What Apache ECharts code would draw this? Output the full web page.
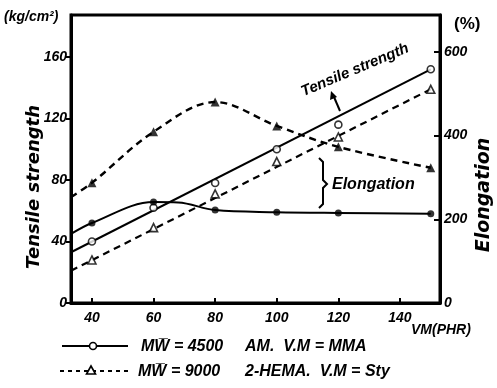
<!DOCTYPE html>
<html>
<head>
<meta charset="utf-8">
<script src="https://cdn.jsdelivr.net/npm/echarts@6/dist/echarts.min.js"></script>
<style>html,body{margin:0;padding:0;background:#fff}#c{width:497px;height:388px}</style>
</head>
<body>
<div id="c"></div>
<script>
// ---- data ----
const xVals = [40, 60, 80, 100, 120, 150];
const tensile4500 = [40, 62, 78, 100, 116, 152];
const tensile9000 = [28, 49, 71, 92, 108, 139];
const elong4500 = [191, 241, 222, 217, 215, 213];
const elong9000 = [287, 409, 480, 423, 373, 323];
// drawn straight lines through tensile points (ends)
const fit4500X = [33.2, 150];
const fit4500Y = [33, 152];
const fit9000X = [33.2, 150];
const fit9000Y = [21, 139];
// drawn elongation curves
const curve4500X = [33.2, 40, 60, 68, 80, 100, 120, 150];
const curve4500Y = [165, 191, 241, 240, 222, 217, 215, 213];
const curve9000X = [33.2, 40, 60, 80, 100, 120, 150];
const curve9000Y = [253, 287, 409, 480, 423, 373, 323];
// tick labels
const xTicks = [40, 60, 80, 100, 120, 140];
const leftTicks = [0, 40, 80, 120, 160];
const rightTicks = [0, 200, 400, 600];

const pair = (xs, ys) => xs.map((x, i) => [x, ys[i]]);
const FONT = 'italic bold 16px "Liberation Sans"';
const tickFont = { fontFamily: 'Liberation Sans', fontStyle: 'italic', fontWeight: 'bold', fontSize: 14, color: '#000' };
const blk = '#000';
const dash = [7, 5];

const chart = echarts.init(document.getElementById('c'), null, { renderer: 'canvas' });
chart.setOption({
  backgroundColor: '#fff',
  animation: false,
  grid: { left: 71, top: 15, right: 57, bottom: 85, show: true, borderColor: blk, borderWidth: 3, backgroundColor: 'transparent' },
  xAxis: {
    type: 'value', min: 33.2, max: 153,
    axisLine: { lineStyle: { color: blk, width: 3 } },
    axisTick: { inside: true, length: 5, lineStyle: { color: blk, width: 2 }, customValues: xTicks },
    axisLabel: Object.assign({ margin: 8, customValues: xTicks }, tickFont),
    splitLine: { show: false }
  },
  yAxis: [{
    type: 'value', min: 0, max: 187.3, position: 'left',
    axisLine: { show: true, lineStyle: { color: blk, width: 3 } },
    axisTick: { show: true, inside: false, length: 5, lineStyle: { color: blk, width: 2 }, customValues: leftTicks },
    axisLabel: Object.assign({ margin: 4, customValues: leftTicks }, tickFont),
    splitLine: { show: false }
  }, {
    type: 'value', min: 0, max: 688, position: 'right',
    axisLine: { show: true, lineStyle: { color: blk, width: 3 } },
    axisTick: { show: true, inside: true, length: 6, lineStyle: { color: blk, width: 2 }, customValues: rightTicks },
    axisLabel: Object.assign({ margin: 4, customValues: rightTicks }, tickFont),
    splitLine: { show: false }
  }],
  series: [
    { type: 'line', yAxisIndex: 0, data: pair(fit4500X, fit4500Y), showSymbol: false, lineStyle: { color: blk, width: 2 }, z: 2 },
    { type: 'line', yAxisIndex: 0, data: pair(fit9000X, fit9000Y), showSymbol: false, lineStyle: { color: blk, width: 2.2, type: dash }, z: 2 },
    { type: 'line', yAxisIndex: 1, data: pair(curve4500X, curve4500Y), showSymbol: false, smooth: 0.35, lineStyle: { color: blk, width: 2 }, z: 2 },
    { type: 'line', yAxisIndex: 1, data: pair(curve9000X, curve9000Y), showSymbol: false, smooth: 0.35, lineStyle: { color: blk, width: 2.4, type: dash }, z: 2 },
    { type: 'scatter', yAxisIndex: 0, data: pair(xVals, tensile4500), symbol: 'circle', symbolSize: 7, itemStyle: { color: '#fff', borderColor: blk, borderWidth: 1.6 }, z: 5 },
    { type: 'scatter', yAxisIndex: 0, data: pair(xVals, tensile9000), symbol: 'triangle', symbolSize: 8, itemStyle: { color: '#fff', borderColor: blk, borderWidth: 1.6 }, z: 5 },
    { type: 'scatter', yAxisIndex: 1, data: pair(xVals, elong4500), symbol: 'circle', symbolSize: 7, itemStyle: { color: blk }, z: 5 },
    { type: 'scatter', yAxisIndex: 1, data: pair(xVals, elong9000), symbol: 'triangle', symbolSize: 9, itemStyle: { color: blk }, z: 5 }
  ],
  graphic: [
    { type: 'text', x: 4, y: 17, style: { text: '(kg/cm²)', font: 'italic bold 14px "Liberation Sans"', fill: blk, verticalAlign: 'middle' } },
    { type: 'text', x: 454, y: 24, style: { text: '(%)', font: 'bold 17px "Liberation Sans"', fill: blk, verticalAlign: 'middle' } },
    { type: 'text', x: 34, y: 187, rotation: Math.PI / 2, style: { text: 'Tensile strength', font: 'oblique bold 18px "DejaVu Sans"', fill: blk, align: 'center', verticalAlign: 'middle' } },
    { type: 'text', x: 484, y: 195, rotation: Math.PI / 2, style: { text: 'Elongation', font: 'oblique bold 19px "DejaVu Sans"', fill: blk, align: 'center', verticalAlign: 'middle' } },
    { type: 'text', x: 355, y: 70, rotation: 0.4, style: { text: 'Tensile strength', font: 'italic bold 15px "Liberation Sans"', fill: blk, align: 'center', verticalAlign: 'middle' } },
    { type: 'polyline', shape: { points: [[340, 111], [334, 97]] }, style: { stroke: blk, lineWidth: 2, fill: null } },
    { type: 'polygon', shape: { points: [[331, 91], [330, 100], [337, 97]] }, style: { fill: blk } },
    { type: 'polyline', shape: { points: [[319, 158], [323, 162], [323, 180], [327, 184], [323, 188], [323, 204], [319, 208]] }, style: { stroke: blk, lineWidth: 2, fill: null } },
    { type: 'text', x: 332, y: 185, style: { text: 'Elongation', font: FONT, fill: blk, verticalAlign: 'middle' } },
    { type: 'text', x: 411, y: 330, style: { text: 'VM(PHR)', font: 'italic bold 14px "Liberation Sans"', fill: blk, verticalAlign: 'middle' } },
    // legend row 1
    { type: 'polyline', shape: { points: [[62, 346], [128, 346]] }, style: { stroke: blk, lineWidth: 2, fill: null } },
    { type: 'circle', shape: { cx: 93, cy: 346, r: 3.5 }, style: { fill: '#fff', stroke: blk, lineWidth: 1.6 } },
    { type: 'text', x: 141, y: 347, style: { text: 'MW\u0305 = 4500', font: FONT, fill: blk, verticalAlign: 'middle' } },
    { type: 'text', x: 245, y: 347, style: { text: 'AM.  V.M = MMA', font: FONT, fill: blk, verticalAlign: 'middle' } },
    // legend row 2
    { type: 'polyline', shape: { points: [[60, 371], [128, 371]] }, style: { stroke: blk, lineWidth: 2, fill: null, lineDash: [4, 4] } },
    { type: 'polygon', shape: { points: [[91, 366], [86.5, 374], [95.5, 374]] }, style: { fill: '#fff', stroke: blk, lineWidth: 1.6 } },
    { type: 'text', x: 138, y: 372, style: { text: 'MW\u0305 = 9000', font: FONT, fill: blk, verticalAlign: 'middle' } },
    { type: 'text', x: 245, y: 372, style: { text: '2-HEMA.  V.M = Sty', font: FONT, fill: blk, verticalAlign: 'middle' } }
  ]
});
</script>
</body>
</html>
